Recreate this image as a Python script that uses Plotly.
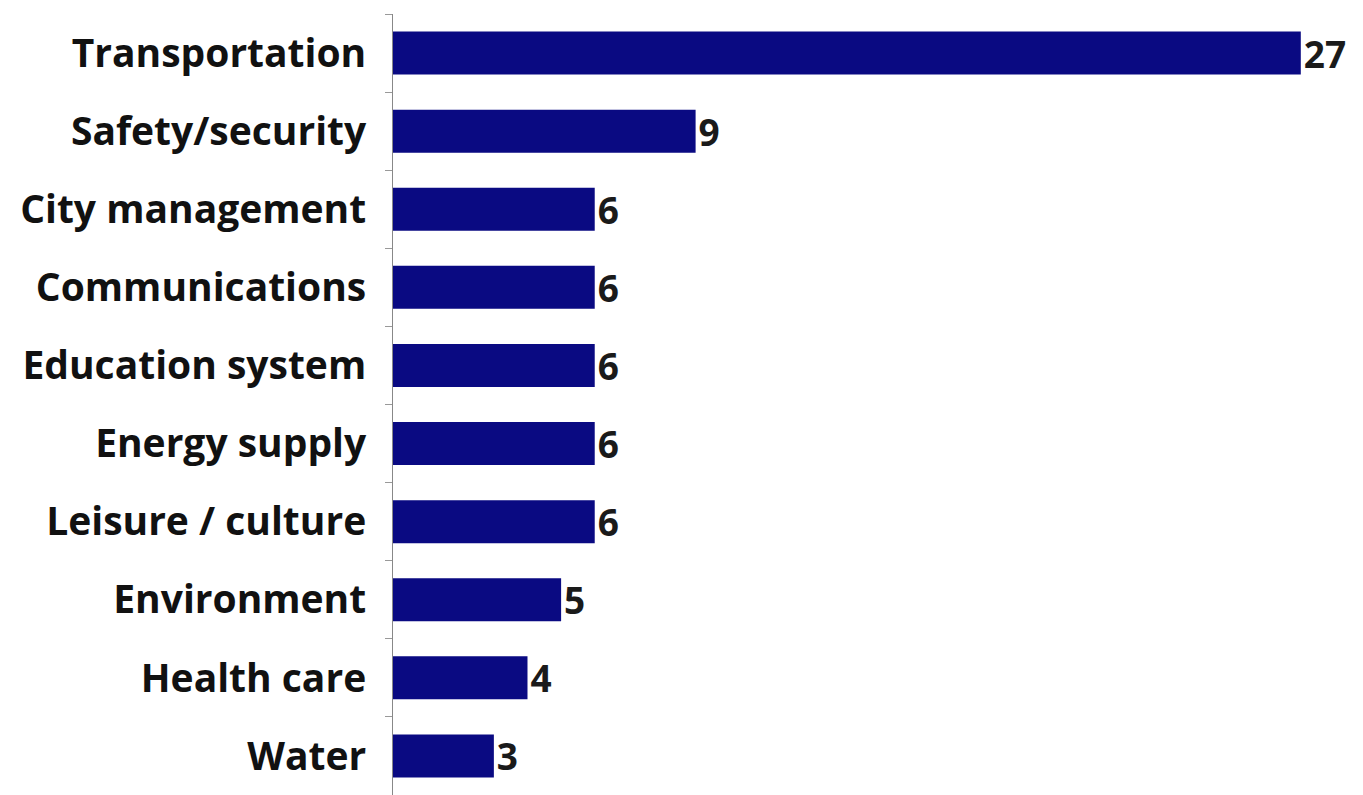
import plotly.graph_objects as go

categories = ["Transportation", "Safety/security", "City management", "Communications",
              "Education system", "Energy supply", "Leisure / culture", "Environment",
              "Health care", "Water"]
values = [27, 9, 6, 6, 6, 6, 6, 5, 4, 3]

fig = go.Figure(go.Bar(
    x=values, y=categories, orientation="h",
    marker=dict(color="#0A0A82", line=dict(width=0)),
    width=0.55,
    text=[str(v) for v in values], textposition="outside",
    constraintext="none",
    textfont=dict(family="Open Sans", size=37, color="#1A1A1A", weight="bold"),
    cliponaxis=False,
))

fig.update_layout(
    width=1363, height=795,
    margin=dict(l=393, r=0, t=14, b=0),
    paper_bgcolor="white", plot_bgcolor="white",
    showlegend=False,
    uniformtext=dict(mode=False),
    xaxis=dict(range=[0, 28.85], visible=False, showgrid=False, zeroline=False),
    yaxis=dict(
        categoryorder="array", categoryarray=categories, autorange="reversed",
        showline=True, linecolor="#888888", linewidth=1,
        ticks="outside", tickson="boundaries", ticklen=7, tickcolor="#999999",
        tickfont=dict(family="Open Sans", size=39, color="#111111", weight="bold"),
        ticklabelstandoff=18,
        showgrid=False, zeroline=False,
    ),
)

fig.write_html("out.html")
